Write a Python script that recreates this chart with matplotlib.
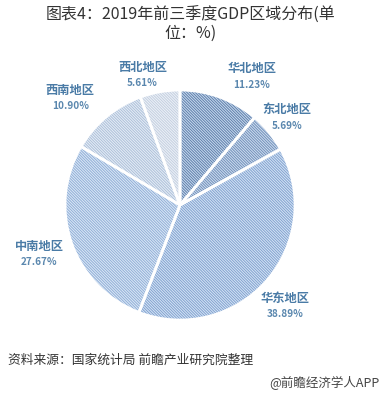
import numpy as np
import matplotlib
matplotlib.use("Agg")
import matplotlib.pyplot as plt

plt.rcParams['font.family'] = ['Noto Sans CJK SC', 'DejaVu Sans']
plt.rcParams['hatch.linewidth'] = 0.7

# Datos
regiones = ["华北地区", "东北地区", "华东地区", "中南地区", "西南地区", "西北地区"]
valores = [11.23, 5.69, 38.89, 27.67, 10.90, 5.61]
etiquetas_pct = ["11.23%", "5.69%", "38.89%", "27.67%", "10.90%", "5.61%"]

colores = ["#c9dbef", "#cfdef0", "#d6e5f6", "#dde9f7", "#e7eef7", "#eef2f8"]
colores_trama = ["#5f7fab", "#7290ba", "#82a2cf", "#91afd7", "#adc0d9", "#c3cfe0"]
separar = [0, 0, 0.09, 0, 0, 0]

W, H = 382, 393
centro = (180, 188)
radio = 115

fig = plt.figure(figsize=(W / 100, H / 100), dpi=100)
fig.patch.set_facecolor("white")
ax = fig.add_axes([0, 0, 1, 1])

# Capa con trama
cunas, _ = ax.pie(valores, startangle=90, counterclock=False, center=centro,
                  radius=radio, explode=separar)
for w, c, hc in zip(cunas, colores, colores_trama):
    w.set_facecolor(c)
    w.set_edgecolor(hc)
    w.set_linewidth(0)
    w.set_hatch("\\" * 12)

# Bordes blancos
bordes, _ = ax.pie(valores, startangle=90, counterclock=False, center=centro,
                   radius=radio, explode=separar)
for w in bordes:
    w.set_facecolor("none")
    w.set_edgecolor("white")
    w.set_linewidth(2.0)

# Etiquetas (distancia en px y ajuste de angulo respecto al centro de la cuna)
dist = [147, 138, 146, 149, 153, 135]
ajuste = [-9, 0, -3, 0, 6, 6]
for w, nombre, pct, d, a in zip(cunas, regiones, etiquetas_pct, dist, ajuste):
    ang = np.deg2rad((w.theta1 + w.theta2) / 2 + a)
    x = centro[0] + d * np.cos(ang)
    y = centro[1] + d * np.sin(ang)
    ax.text(x, y + 8, nombre, ha="center", va="center", fontsize=8.8,
            fontweight="bold", color="#4a7ba6")
    ax.text(x, y - 8, pct, ha="center", va="center", fontsize=7.2,
            fontweight="bold", color="#5a87ae")

ax.set_xlim(0, W)
ax.set_ylim(0, H)
ax.set_aspect("equal", adjustable="box")
ax.axis("off")

# Titulo y fuente
ax.text(191, H - 15, "图表4：2019年前三季度GDP区域分布(单", ha="center", va="center",
        fontsize=11.5, color="#333333")
ax.text(191, H - 33, "位：%)", ha="center", va="center", fontsize=11.5, color="#333333")
ax.text(8, H - 360, "资料来源：国家统计局 前瞻产业研究院整理", ha="left", va="center",
        fontsize=9.2, color="#333333")
ax.text(379, H - 383, "@前瞻经济学人APP", ha="right", va="center",
        fontsize=9, color="#444444")

fig.savefig("out.png", dpi=100, facecolor="white")
